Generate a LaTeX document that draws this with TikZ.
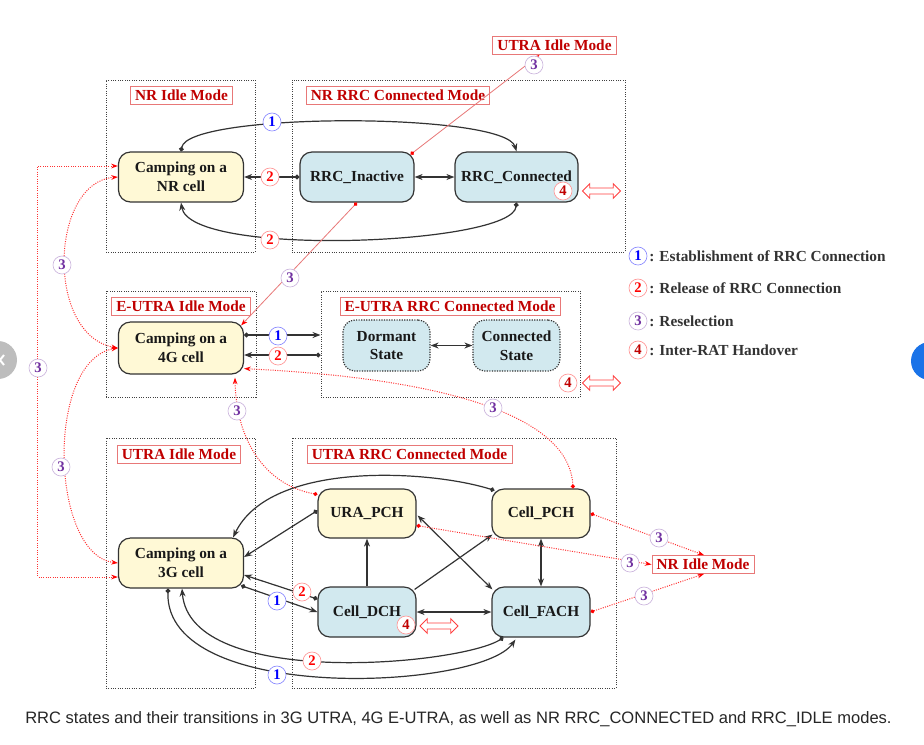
\documentclass[tikz,border=0pt]{standalone}
\usepackage{fontspec}
\setmainfont{Liberation Serif}
\newfontfamily\capfont{Liberation Sans}
\usetikzlibrary{arrows.meta,calc,shapes.arrows}
\definecolor{ycol}{HTML}{FFF9D6}
\definecolor{bcol}{HTML}{D2E9EF}
\definecolor{dred}{HTML}{C00000}
\definecolor{lred}{HTML}{E87878}
\definecolor{purp}{HTML}{7030A0}
\definecolor{edgec}{HTML}{333333}
\definecolor{uigray}{HTML}{BDBDBD}
\definecolor{uiblue}{HTML}{1A73E8}
\newcommand\stfont{\fontsize{11.5}{14}\selectfont\bfseries}
\newcommand\numfont{\fontsize{11}{11}\selectfont\bfseries}
\tikzset{
  frame/.style={draw=black!75, densely dotted, line width=0.75pt, inner sep=0pt},
  state/.style={draw=edgec, line width=0.9pt, rounded corners=9pt, font=\stfont, align=center, inner sep=0pt, text=black!90},
  ybox/.style={state, fill=ycol, minimum width=93.75pt, minimum height=37.5pt},
  ysbox/.style={state, fill=ycol, minimum width=73.5pt, minimum height=36.75pt},
  bsbox/.style={state, fill=bcol, minimum width=73.5pt, minimum height=37.5pt},
  dbox/.style={state, fill=bcol, densely dotted, minimum width=65.25pt, minimum height=38.25pt},
  lbl/.style={draw=lred, line width=0.6pt, text=dred, font=\stfont, inner xsep=3.5pt, inner ysep=1pt, minimum height=13.5pt},
  num/.style={circle, draw, line width=0.5pt, fill=white, minimum size=13.5pt, inner sep=0pt, font=\numfont},
  nA/.style={num, draw=blue!45, text=blue},
  nB/.style={num, draw=red!40, text=red},
  nC/.style={num, draw=purp!35, text=purp},
  nD/.style={num, draw=red!40, text=dred},
  bk/.style={draw=edgec, line width=0.9pt},
  dotarr/.style={{Circle[length=3.5pt]}-{Stealth[length=6pt,width=4.5pt]}},
  dblarr/.style={{Stealth[length=6pt,width=4.5pt]}-{Stealth[length=6pt,width=4.5pt]}},
  onearr/.style={-{Stealth[length=6pt,width=4.5pt]}},
  rl/.style={draw=lred, line width=0.6pt, {Circle[length=3pt,color=red]}-{Stealth[length=5pt,width=3.5pt,color=red]}},
  rd/.style={rl, draw=red!80, line width=0.75pt, densely dotted},
  rdd/.style={draw=red!80, line width=0.75pt, densely dotted, {Stealth[length=5pt,width=3.5pt,color=red]}-{Stealth[length=5pt,width=3.5pt,color=red]}},
  hollow/.style={double arrow, draw=red!75, line width=0.6pt, fill=white, minimum height=28.5pt, minimum width=11pt, inner sep=1.6pt, double arrow head extend=2.8pt},
  legtext/.style={anchor=west, font=\stfont, text=black!80, inner sep=0pt}
}
\begin{document}
\begin{tikzpicture}[x=0.75pt,y=-0.75pt]
\useasboundingbox (0,0) rectangle (924,744);
\fill[white] (0,0) rectangle (924,744);
\begin{scope}
  \clip (0,0) rectangle (924,744);
  \fill[uigray] (-2,360) circle (19);
  \draw[white, line width=1.5pt] (4,355) -- (0,360) -- (4,365);
  \fill[uiblue] (930,361) circle (19);
\end{scope}

% frames
\node[frame, minimum width=149*0.75pt, minimum height=172*0.75pt] (nrif) at (180.5,166) {};
\node[frame, minimum width=333*0.75pt, minimum height=172*0.75pt] (nrcf) at (458.5,166) {};
\node[frame, minimum width=150*0.75pt, minimum height=106*0.75pt] (euif) at (181,344) {};
\node[frame, minimum width=259*0.75pt, minimum height=106*0.75pt] (eucf) at (450.5,344) {};
\node[frame, minimum width=149*0.75pt, minimum height=250*0.75pt] (utif) at (180.5,563) {};
\node[frame, minimum width=324*0.75pt, minimum height=250*0.75pt] (utcf) at (454,563) {};

% labels
\node[lbl] (u1) at (554.5,45.5) {UTRA Idle Mode};
\node[lbl] (nril) at (181.5,95) {NR Idle Mode};
\node[lbl] (nrcl) at (398,95) {NR RRC Connected Mode};
\node[lbl] (eil) at (181,306) {E-UTRA Idle Mode};
\node[lbl] (ecl) at (450,306) {E-UTRA RRC Connected Mode};
\node[lbl] (uil) at (179,454) {UTRA Idle Mode};
\node[lbl] (ucl) at (409.5,454) {UTRA RRC Connected Mode};
\node[lbl] (nri2) at (703,564.5) {NR Idle Mode};

% states
\node[ybox] (nrc) at (181,177) {Camping on a\\NR cell};
\node[state, fill=bcol, minimum width=85.5pt, minimum height=37.5pt] (inact) at (357,177) {RRC\_Inactive};
\node[state, fill=bcol, minimum width=92.25pt, minimum height=37.5pt] (conn) at (516.5,177) {RRC\_Connected};
\node[ybox, minimum height=39pt] (c4g) at (181,348) {Camping on a\\4G cell};
\node[dbox] (dorm) at (386.5,345.5) {Dormant\\State};
\node[dbox] (cst) at (516.5,345.5) {Connected\\State};
\node[ybox] (c3g) at (181,563) {Camping on a\\3G cell};
\node[ysbox] (ura) at (367,513.5) {URA\_PCH};
\node[ysbox] (cpch) at (541,513.5) {Cell\_PCH};
\node[bsbox] (dch) at (367,612) {Cell\_DCH};
\node[bsbox] (fach) at (541,612) {Cell\_FACH};

% NR connectors
\draw[bk,dotarr] (nrc.north) .. controls (188,112) and (505,112) .. (conn.north);
\draw[bk,dotarr] (inact.west) -- (nrc.east);
\draw[bk,dblarr] (inact.east) -- (conn.west);
\draw[bk,dotarr] (conn.south) .. controls (512,245) and (190,258) .. (nrc.south);
\draw[rl] ($(inact.north east)+(-4,3)$) -- ($(u1.south)+(-15,0)$);
\draw[rl] (inact.south) -- ($(c4g.north east)+(-3,4)$);

% E-UTRA connectors
\draw[bk,dotarr] ($(c4g.east)+(0,-13)$) -- ($(eucf.west)+(0,-9)$);
\draw[bk,dotarr] ($(eucf.west)+(0,11)$) -- ($(c4g.east)+(0,7)$);
\draw[bk,dblarr] (dorm) -- (cst);

% UTRA connectors
\draw[bk,dotarr] ($(cpch.north west)+(3,2)$) .. controls (430,470) and (270,460) .. ($(c3g.north east)+(-11,0)$);
\draw[bk,dotarr] ($(ura.west)+(0,-3)$) -- ($(c3g.east)+(0,-6)$);
\draw[bk,onearr] (dch.north) -- (ura.south);
\draw[bk,onearr] ($(dch.north east)+(-2,3)$) -- ($(cpch.south west)+(1,-4)$);
\draw[bk,dblarr] ($(ura.east)+(1,2)$) -- ($(fach.north west)+(1,3)$);
\draw[bk,dblarr] (cpch.south) -- (fach.north);
\draw[bk,dblarr] (dch.east) -- (fach.west);
\draw[bk,dotarr] ($(dch.west)+(0,-13)$) -- ($(c3g.east)+(0,12)$);
\draw[bk,dotarr] ($(c3g.south east)+(-3,-3)$) -- (dch.west);
\draw[bk,dotarr] ($(fach.south west)+(12,0)$) .. controls (460,665) and (190,690) .. ($(c3g.south)+(1,0)$);
\draw[bk,dotarr] ($(c3g.south)+(-13,0)$) .. controls (165,705) and (480,690) .. ($(fach.south west)+(24,2)$);

% red reselection to NR idle
\draw[rd] (cpch.east) -- ($(nri2.north)+(1,0)$);
\draw[rd] ($(ura.east)+(0,12)$) -- (nri2.west);
\draw[rd] (fach.east) -- ($(nri2.south)+(1,0)$);

% red reselection to 4G
\draw[rd] ($(cpch.north)+(32,0)$) .. controls (570,425) and (475,380) .. ($(c4g.south east)+(0,-6)$);
\draw[rd] ($(ura.north west)+(0,6)$) .. controls (265,485) and (236,440) .. ($(c4g.south)+(54,3)$);

% left side reselection
\draw[rdd] ($(nrc.west)+(0,-11)$) -- ++(-80,0) |- ($(c3g.west)+(0,14)$);
\draw[rdd] (nrc.west) .. controls (50,182) and (45,335) .. (c4g.west);
\draw[rdd] (c4g.west) .. controls (45,360) and (50,555) .. (c3g.west);

% handover arrows
\node[hollow] (h1) at (601.5,191) {};
\node[hollow] (h2) at (601.5,383) {};
\node[hollow] (h3) at (439,626) {};

% number labels
\node[nC] (k1) at (534,65) {3};
\node[nA] (k2) at (272,122) {1};
\node[nB] (k3) at (270,177) {2};
\node[nD] (k4) at (563,191) {4};
\node[nB] (k5) at (270,240) {2};
\node[nC] (k6) at (62,265) {3};
\node[nC] (k7) at (290,278) {3};
\node[nA] (k8) at (278,336) {1};
\node[nB] (k9) at (278,356) {2};
\node[nC] (k10) at (38,368) {3};
\node[nD] (k11) at (568,383) {4};
\node[nC] (k12) at (237,411) {3};
\node[nC] (k13) at (493,408) {3};
\node[nC] (k14) at (61,467) {3};
\node[nC] (k15) at (659,538) {3};
\node[nC] (k16) at (630,563) {3};
\node[nC] (k17) at (644,596) {3};
\node[nB] (k18) at (302,592) {2};
\node[nA] (k19) at (277,601) {1};
\node[nD] (k20) at (406,625) {4};
\node[nB] (k21) at (312,661) {2};
\node[nA] (k22) at (277,675) {1};

% legend
\node[nA] (g1) at (638,256) {1};
\node[legtext] (t1) at (649,256) {: Establishment of RRC Connection};
\node[nB] (g2) at (638,288) {2};
\node[legtext] (t2) at (649,288) {: Release of RRC Connection};
\node[nC] (g3) at (638,321) {3};
\node[legtext] (t3) at (649,321) {: Reselection};
\node[nD] (g4) at (638,350) {4};
\node[legtext] (t4) at (649,350) {: Inter-RAT Handover};

% caption
\node[anchor=west, inner sep=0pt, font=\capfont\fontsize{12.4}{14}\selectfont, text=black!85] (cap) at (25,719) {RRC states and their transitions in 3G UTRA, 4G E-UTRA, as well as NR RRC\_CONNECTED and RRC\_IDLE modes.};
\end{tikzpicture}
\end{document}
